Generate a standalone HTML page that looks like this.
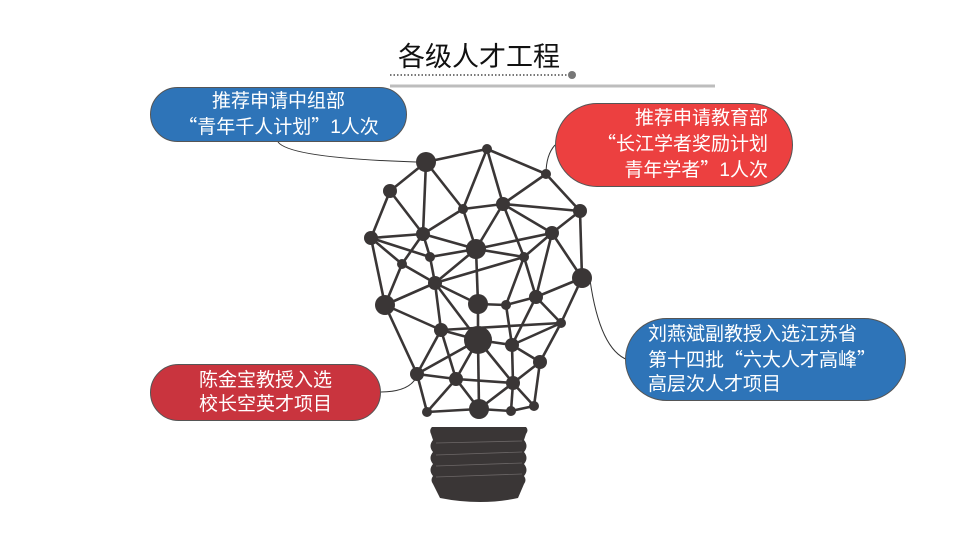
<!DOCTYPE html>
<html><head><meta charset="utf-8"><style>
body{margin:0;width:960px;height:540px;background:#fff;overflow:hidden;position:relative;font-family:"Liberation Sans","Noto Sans CJK SC",sans-serif}
.pill{position:absolute;color:#fff;font-size:19px;line-height:24px;border:1px solid #555;box-sizing:border-box;display:flex;flex-direction:column;justify-content:center}
.q{font-family:"Noto Sans CJK SC",sans-serif}
</style></head><body>
<svg width="960" height="540" style="position:absolute;left:0;top:0">
<line x1="390" y1="86" x2="715" y2="86" stroke="#bdbdbd" stroke-width="3"/>
<line x1="390" y1="75" x2="568" y2="75" stroke="#777" stroke-width="2" stroke-dasharray="1.5,2"/>
<circle cx="572" cy="75" r="4" fill="#777"/>
<g fill="none" stroke="#333" stroke-width="1">
<path d="M278 142 Q290 158 416 162"/>
<path d="M555 145 Q546 155 546 174"/>
<path d="M590 280 Q600 350 628 360"/>
<path d="M380 392 Q410 392 417 376"/>
</g>
<g stroke="#3a3636" stroke-width="2.6" id="edges"></g>
<g fill="#3a3636" id="nodes"></g>
<g fill="#3a3636">
<path d="M432 427 H526 Q529 430 526 434 L524 440 Q529 446 524 452 Q529 458 524 464 Q529 470 524 476 Q527 480 524 484 L518 498 Q500 502 480 502 Q460 502 440 498 L433 484 Q430 480 433 476 Q428 470 433 464 Q428 458 433 452 Q428 446 433 440 L431 434 Q429 430 432 427Z"/>
</g>
<g stroke="#6b6666" stroke-width="0.8">
<line x1="436" y1="443" x2="522" y2="441"/><line x1="436" y1="455" x2="522" y2="452"/><line x1="436" y1="466" x2="522" y2="463"/><line x1="436" y1="477" x2="522" y2="474"/>
</g>
</svg>
<div style="position:absolute;left:0;width:958px;top:35px;text-align:center;font-size:27px;color:#111">各级人才工程</div>
<div class="pill" style="left:150px;top:87px;width:257px;height:55px;border-radius:28px;background:#2e74b8;text-align:center">推荐申请中组部<br><span><span class="q">“</span>青年千人计划<span class="q">”</span>1人次</span></div>
<div class="pill" style="left:555px;top:103px;width:238px;height:84px;border-radius:42px;background:#ec4040;text-align:right;padding-right:24px">推荐申请教育部<br><span><span class="q">“</span>长江学者奖励计划</span><span>青年学者<span class="q">”</span>1人次</span></div>
<div class="pill" style="left:625px;top:318px;width:281px;height:83px;border-radius:42px;background:#2e74b8;text-align:left;padding-left:22px">刘燕斌副教授入选江苏省<br><span>第十四批<span class="q">“</span>六大人才高峰<span class="q">”</span></span><span>高层次人才项目</span></div>
<div class="pill" style="left:150px;top:364px;width:231px;height:57px;border-radius:29px;background:#c9343e;text-align:center">陈金宝教授入选<br>校长空英才项目</div>
<script>
const N={A:[426,162,10],B:[487,149,5],C:[390,191,7],D:[546,174,5],E:[463,209,5],F:[503,204,7],G:[580,211,7],H:[371,238,7],I:[423,234,7],J:[476,249,10],K:[552,233,7],L:[402,264,5],M:[430,257,5],N:[524,257,5],O:[582,278,10],P:[435,283,7],Q:[385,305,10],R:[478,304,10],S:[506,305,5],T:[536,297,7],U:[441,330,7],V:[561,323,5],W:[478,340,14],X:[512,345,7],Y:[540,362,7],Z:[417,374,7],a:[456,379,7],b:[513,383,7],c:[427,412,5],d:[479,409,10],e:[511,411,5],f:[534,406,5]};
const E="AB AC AE AI BE BF BD CH CI DF DG EF EI EJ FJ FG FK FN GK GO HI HL HQ HM IJ IM IL JM JN JK JR JP KN KO KT LP LQ MP NP NT NS OT OV PQ PU PR PW QU QZ RW RS ST SX TV TX UZ UW Ua UV WX WZ Wa Wd Wb XV XY Xb Yb Yf Za Zc ab ad ac bd be bf dc de ef VY".split(" ");
const s="http://www.w3.org/2000/svg";let g=document.getElementById("edges"),h=document.getElementById("nodes");
E.forEach(e=>{let p=N[e[0]],q=N[e[1]],l=document.createElementNS(s,"line");l.setAttribute("x1",p[0]);l.setAttribute("y1",p[1]);l.setAttribute("x2",q[0]);l.setAttribute("y2",q[1]);g.appendChild(l)});
for(let k in N){let c=document.createElementNS(s,"circle");c.setAttribute("cx",N[k][0]);c.setAttribute("cy",N[k][1]);c.setAttribute("r",N[k][2]);h.appendChild(c)}
</script>
</body></html>
